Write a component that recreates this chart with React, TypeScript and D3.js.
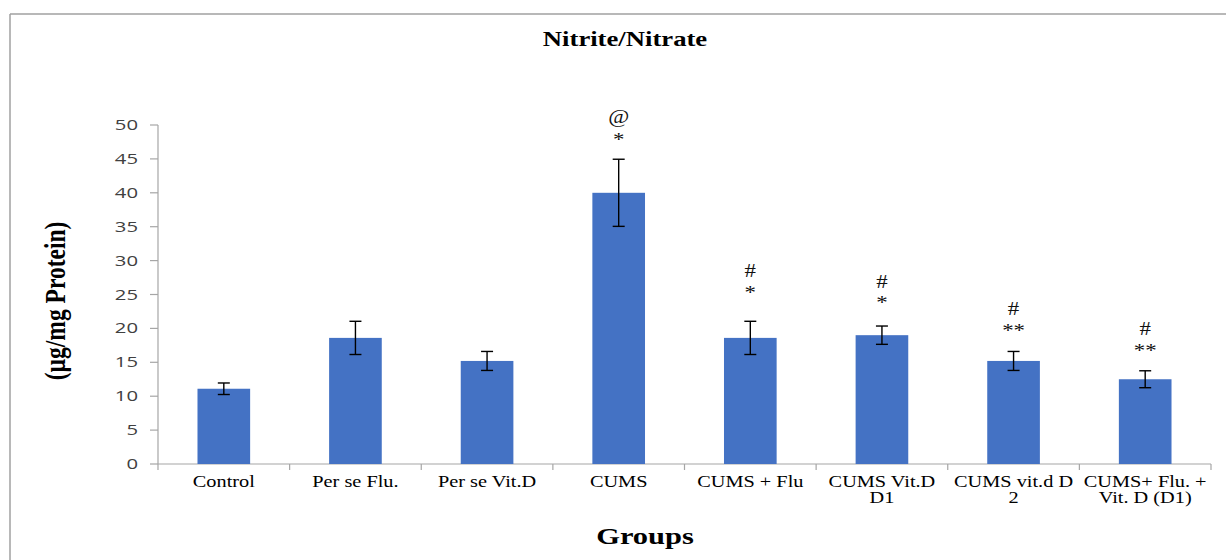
import React from "react";
import * as d3 from "d3";

const categories: string[][] = [
  ["Control"],
  ["Per se Flu."],
  ["Per se Vit.D"],
  ["CUMS"],
  ["CUMS + Flu"],
  ["CUMS Vit.D", "D1"],
  ["CUMS vit.d D", "2"],
  ["CUMS+ Flu. +", "Vit. D (D1)"],
];
const values = [11.1, 18.6, 15.2, 40.0, 18.6, 19.0, 15.2, 12.5];
const errors = [0.85, 2.45, 1.4, 4.95, 2.45, 1.35, 1.4, 1.25];
const upperMarks = ["", "", "", "@", "#", "#", "#", "#"];
const upperMarkAt = [0, 0, 0, 51.2, 28.5, 26.9, 22.9, 19.9];
const lowerMarks = ["", "", "", "*", "*", "*", "**", "**"];
const lowerMarkAt = [0, 0, 0, 48.2, 25.7, 24.2, 20.1, 17.1];
const yTicks = [0, 5, 10, 15, 20, 25, 30, 35, 40, 45, 50];

const W = 1226;
const H = 560;
const SX = 1.27;
const serif = "'Liberation Serif', 'Times New Roman', serif";
const sans = "'Open Sans', 'Liberation Sans', sans-serif";

function SText(props: any) {
  const { x, y, children, rotate, sx, ...rest } = props;
  return (
    <text
      transform={`translate(${x},${y}) scale(${sx ?? SX},1)${rotate ? ` rotate(${rotate})` : ""}`}
      {...rest}
    >
      {children}
    </text>
  );
}

export default function App() {
  const x = d3
    .scaleBand<number>()
    .domain(d3.range(categories.length))
    .range([158, 1211])
    .paddingInner(0.6)
    .paddingOuter(0.3);
  const step = x.step();
  const y = d3.scaleLinear().domain([0, 50]).range([464, 125]);
  const axisColor = "#A6A6A6";

  return (
    <svg
      width={W}
      height={H}
      style={{ position: "absolute", left: 0, top: 0, background: "#fff" }}
    >
      {/* frame */}
      <line x1={10} y1={14} x2={W} y2={14} stroke="#A0A0A0" strokeWidth={1.5} />
      <line x1={10} y1={14} x2={10} y2={H} stroke="#A0A0A0" strokeWidth={1.5} />

      {/* title */}
      <SText
        x={625}
        y={46}
        textAnchor="middle"
        fontFamily={serif}
        fontWeight="bold"
        fontSize={21}
        fill="#000"
      >
        Nitrite/Nitrate
      </SText>

      {/* y axis */}
      <line x1={158} y1={y(0)} x2={158} y2={y(50)} stroke={axisColor} strokeWidth={1.2} />
      {yTicks.map((t) => (
        <g key={t}>
          <line x1={150} x2={158} y1={y(t)} y2={y(t)} stroke={axisColor} strokeWidth={1.2} />
          <SText
            x={138}
            y={y(t) + 5}
            sx={1.4}
            textAnchor="end"
            fontFamily={sans}
            fontSize={14.5}
            fill="#404040"
          >
            {t}
          </SText>
        </g>
      ))}

      {/* x axis */}
      <line x1={158} y1={y(0)} x2={1211} y2={y(0)} stroke={axisColor} strokeWidth={1.2} />
      {d3.range(categories.length + 1).map((i) => {
        const xx = 158 + i * step;
        return (
          <line key={i} x1={xx} x2={xx} y1={y(0)} y2={y(0) + 6} stroke={axisColor} strokeWidth={1.2} />
        );
      })}

      {/* bars */}
      {values.map((v, i) => (
        <rect
          key={i}
          x={x(i)!}
          y={y(v)}
          width={x.bandwidth()}
          height={y(0) - y(v)}
          fill="#4472C4"
        />
      ))}

      {/* error bars */}
      {values.map((v, i) => {
        const cx = x(i)! + x.bandwidth() / 2;
        const hi = y(v + errors[i]);
        const lo = y(v - errors[i]);
        return (
          <g key={i} stroke="#000" strokeWidth={1.4}>
            <line x1={cx} x2={cx} y1={hi} y2={lo} />
            <line x1={cx - 6} x2={cx + 6} y1={hi} y2={hi} />
            <line x1={cx - 6} x2={cx + 6} y1={lo} y2={lo} />
          </g>
        );
      })}

      {/* significance marks */}
      {values.map((v, i) => {
        const cx = x(i)! + x.bandwidth() / 2;
        return (
          <g key={i}>
            {upperMarks[i] && (
              <SText
                x={cx}
                y={y(upperMarkAt[i]) + 6}
                textAnchor="middle"
                fontFamily={serif}
                fontSize={18}
                fill="#111"
              >
                {upperMarks[i]}
              </SText>
            )}
            {lowerMarks[i] && (
              <SText
                x={cx}
                y={y(lowerMarkAt[i]) + 9}
                textAnchor="middle"
                fontFamily={serif}
                fontSize={18}
                fill="#111"
              >
                {lowerMarks[i]}
              </SText>
            )}
          </g>
        );
      })}

      {/* category labels */}
      {categories.map((lines, i) => {
        const cx = x(i)! + x.bandwidth() / 2;
        return (
          <g key={i}>
            {lines.map((ln, j) => (
              <SText
                key={j}
                x={cx}
                y={487 + j * 16}
                textAnchor="middle"
                fontFamily={serif}
                fontSize={16}
                fill="#000"
              >
                {ln}
              </SText>
            ))}
          </g>
        );
      })}

      {/* axis titles */}
      <SText
        x={645}
        y={544}
        textAnchor="middle"
        fontFamily={serif}
        fontWeight="bold"
        fontSize={24}
        fill="#000"
      >
        Groups
      </SText>
      <SText
        x={65}
        y={301}
        rotate={-90}
        textAnchor="middle"
        fontFamily={serif}
        fontWeight="bold"
        fontSize={23.5}
        fill="#000"
      >
        (µg/mg Protein)
      </SText>
    </svg>
  );
}
